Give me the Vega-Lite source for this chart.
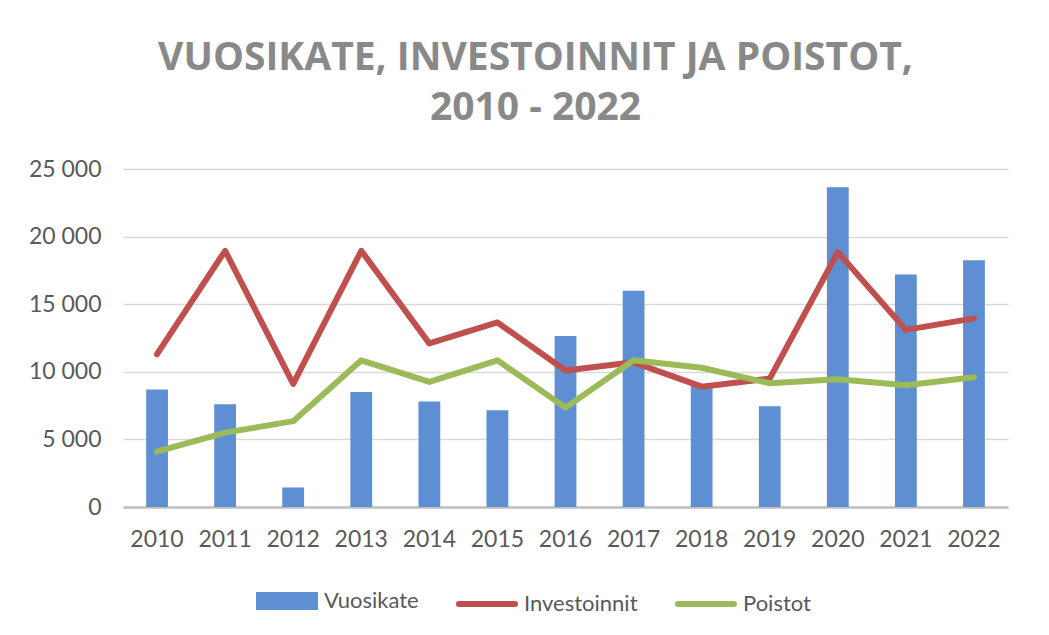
{
  "$schema": "https://vega.github.io/schema/vega-lite/v6.json",
  "width": 885,
  "height": 338,
  "autosize": {"type": "none"},
  "padding": {"left": 123, "top": 169, "right": 41, "bottom": 128},
  "background": "white",
  "title": {
    "text": ["VUOSIKATE, INVESTOINNIT JA POISTOT,", "2010 - 2022"],
    "anchor": "middle",
    "frame": "group",
    "dx": -30,
    "offset": 30,
    "font": "Open Sans",
    "fontSize": 39,
    "fontWeight": "bold",
    "lineHeight": 50,
    "color": "#898989"
  },
  "data": {
    "values": [
      {"year": "2010", "series": "Vuosikate", "value": 8700},
      {"year": "2011", "series": "Vuosikate", "value": 7600},
      {"year": "2012", "series": "Vuosikate", "value": 1450},
      {"year": "2013", "series": "Vuosikate", "value": 8500},
      {"year": "2014", "series": "Vuosikate", "value": 7800},
      {"year": "2015", "series": "Vuosikate", "value": 7150},
      {"year": "2016", "series": "Vuosikate", "value": 12650},
      {"year": "2017", "series": "Vuosikate", "value": 16000},
      {"year": "2018", "series": "Vuosikate", "value": 9000},
      {"year": "2019", "series": "Vuosikate", "value": 7450},
      {"year": "2020", "series": "Vuosikate", "value": 23650},
      {"year": "2021", "series": "Vuosikate", "value": 17200},
      {"year": "2022", "series": "Vuosikate", "value": 18250},
      {"year": "2010", "series": "Investoinnit", "value": 11300},
      {"year": "2011", "series": "Investoinnit", "value": 18950},
      {"year": "2012", "series": "Investoinnit", "value": 9100},
      {"year": "2013", "series": "Investoinnit", "value": 18950},
      {"year": "2014", "series": "Investoinnit", "value": 12100},
      {"year": "2015", "series": "Investoinnit", "value": 13650},
      {"year": "2016", "series": "Investoinnit", "value": 10100},
      {"year": "2017", "series": "Investoinnit", "value": 10700},
      {"year": "2018", "series": "Investoinnit", "value": 8900},
      {"year": "2019", "series": "Investoinnit", "value": 9500},
      {"year": "2020", "series": "Investoinnit", "value": 18850},
      {"year": "2021", "series": "Investoinnit", "value": 13100},
      {"year": "2022", "series": "Investoinnit", "value": 13950},
      {"year": "2010", "series": "Poistot", "value": 4100},
      {"year": "2011", "series": "Poistot", "value": 5500},
      {"year": "2012", "series": "Poistot", "value": 6350},
      {"year": "2013", "series": "Poistot", "value": 10850},
      {"year": "2014", "series": "Poistot", "value": 9250},
      {"year": "2015", "series": "Poistot", "value": 10850},
      {"year": "2016", "series": "Poistot", "value": 7350},
      {"year": "2017", "series": "Poistot", "value": 10850},
      {"year": "2018", "series": "Poistot", "value": 10300},
      {"year": "2019", "series": "Poistot", "value": 9150},
      {"year": "2020", "series": "Poistot", "value": 9450},
      {"year": "2021", "series": "Poistot", "value": 9000},
      {"year": "2022", "series": "Poistot", "value": 9600}
    ]
  },
  "encoding": {
    "x": {
      "field": "year",
      "type": "nominal",
      "bandPosition": 0.5,
      "scale": {"paddingInner": 0.68, "paddingOuter": 0.34},
      "axis": {
        "title": null,
        "labelAngle": 0,
        "ticks": false,
        "domainColor": "#bfbfbf",
        "domainWidth": 2.5,
        "labelFont": "Lato",
        "labelFontSize": 23,
        "labelColor": "#595959",
        "labelPadding": 21
      }
    },
    "y": {
      "field": "value",
      "type": "quantitative",
      "scale": {"domain": [0, 25000], "nice": false},
      "axis": {
        "title": null,
        "values": [0, 5000, 10000, 15000, 20000, 25000],
        "labelExpr": "replace(format(datum.value, ','), ',', ' ')",
        "domain": false,
        "ticks": false,
        "gridColor": "#d9d9d9",
        "gridWidth": 1.5,
        "labelFont": "Lato",
        "labelFontSize": 23,
        "labelColor": "#595959",
        "labelPadding": 22
      }
    },
    "color": {
      "field": "series",
      "type": "nominal",
      "scale": {
        "domain": ["Vuosikate", "Investoinnit", "Poistot"],
        "range": ["#5d8fd2", "#c0504d", "#9bbb59"]
      },
      "legend": {
        "title": null,
        "orient": "none",
        "legendX": 133,
        "legendY": 401,
        "direction": "horizontal",
        "labelFont": "Lato",
        "labelFontSize": 22,
        "labelColor": "#595959",
        "labelOffset": 6,
        "columnPadding": 28,
        "symbolSize": 3136,
        "symbolStrokeWidth": 6,
        "encode": {
          "symbols": {
            "update": {
              "shape": {"signal": "datum.value === 'Vuosikate' ? 'M-1,-0.214L1,-0.214L1,0.214L-1,0.214Z' : 'stroke'"},
              "fill": {"signal": "datum.value === 'Vuosikate' ? '#5d8fd2' : 'transparent'"},
              "stroke": {"signal": "datum.value === 'Vuosikate' ? 'transparent' : (datum.value === 'Investoinnit' ? '#c0504d' : '#9bbb59')"},
              "strokeCap": {"value": "round"},
              "opacity": {"value": 1}
            }
          }
        }
      }
    }
  },
  "layer": [
    {
      "transform": [{"filter": "datum.series === 'Vuosikate'"}],
      "mark": {"type": "bar", "opacity": 1}
    },
    {
      "transform": [{"filter": "datum.series === 'Investoinnit'"}],
      "mark": {"type": "line", "strokeWidth": 6, "strokeJoin": "round", "strokeCap": "round"}
    },
    {
      "transform": [{"filter": "datum.series === 'Poistot'"}],
      "mark": {"type": "line", "strokeWidth": 6, "strokeJoin": "round", "strokeCap": "round"}
    }
  ],
  "config": {"view": {"stroke": null}}
}
